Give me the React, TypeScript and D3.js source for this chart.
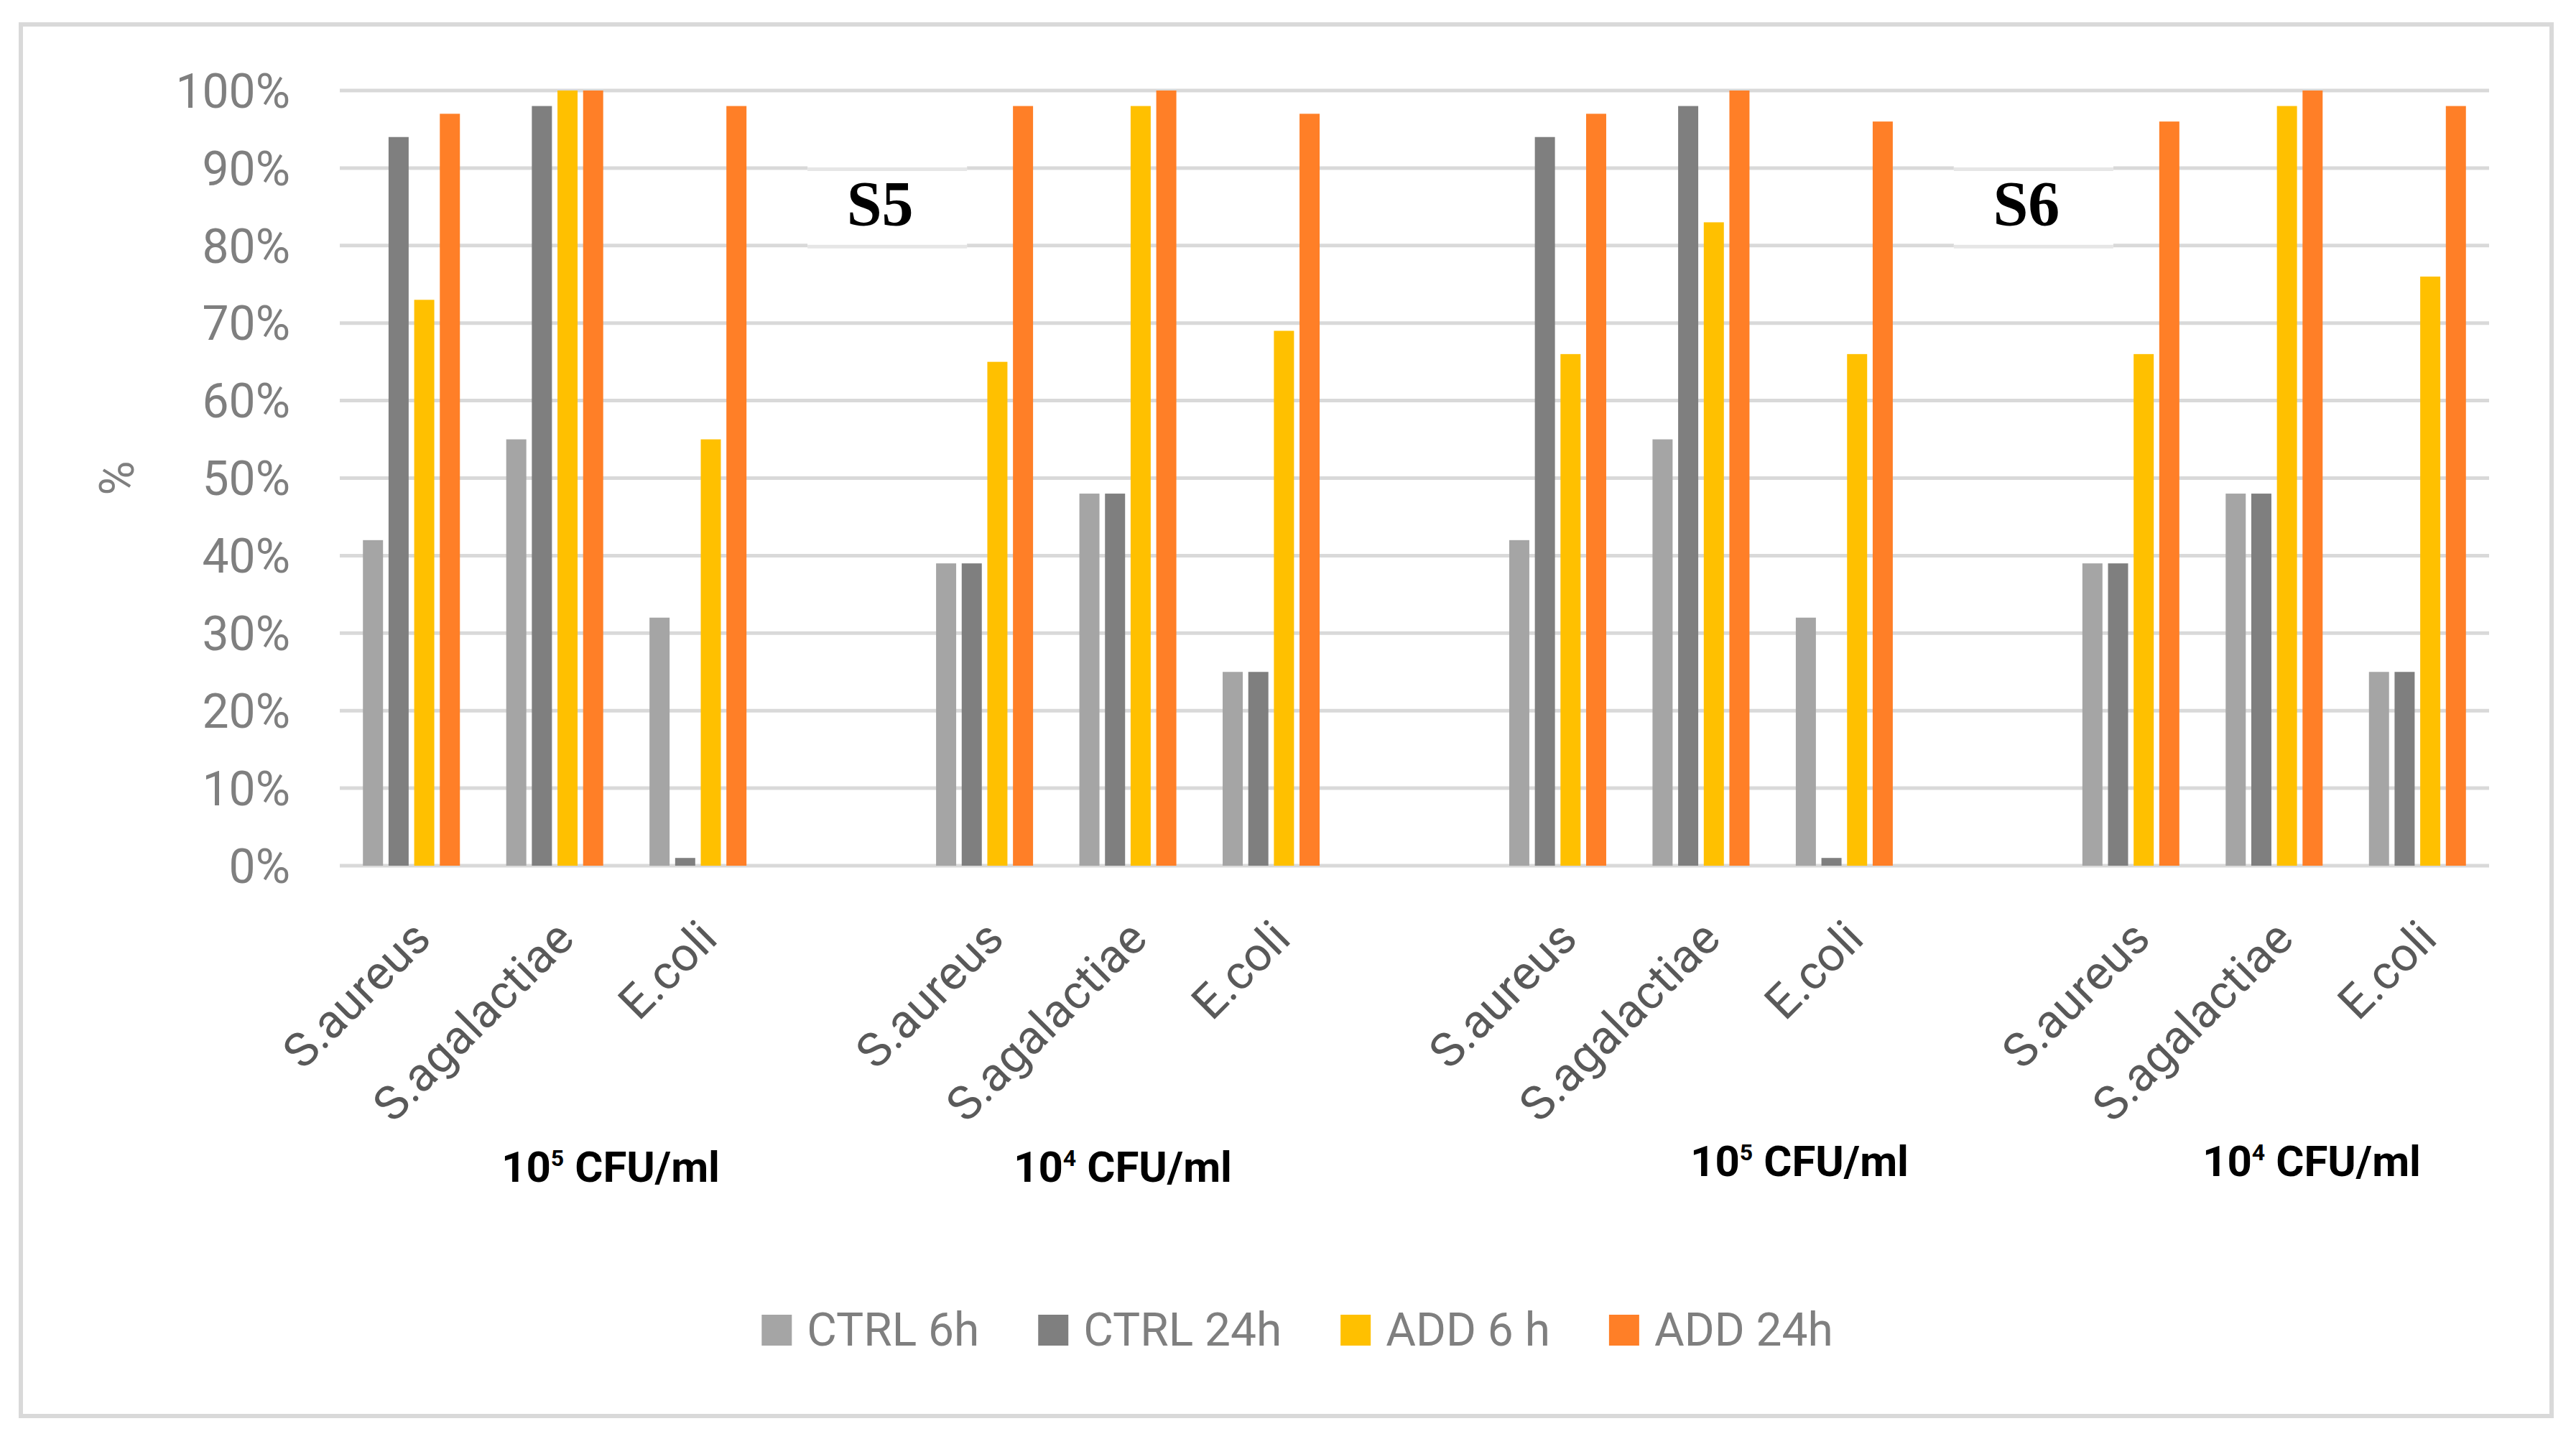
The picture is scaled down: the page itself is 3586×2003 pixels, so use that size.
import { useRef, useEffect } from 'react'
import * as d3 from 'd3'

// species shown in each block, blocks separated by an empty slot
const species = ['S.aureus', 'S.agalactiae', 'E.coli']
const doseExponents = ['5', '4', '5', '4']
const sampleNames = ['S5', 'S6']
const seriesNames = ['CTRL 6h', 'CTRL 24h', 'ADD 6 h', 'ADD 24h']
const seriesColors = ['#A5A5A5', '#7F7F7F', '#FFC000', '#FF7F27']
const yTicks = [0, 10, 20, 30, 40, 50, 60, 70, 80, 90, 100]

// values in %, order: block1 (3 species), block2, block3, block4
const ctrl6h = [42, 55, 32, 39, 48, 25, 42, 55, 32, 39, 48, 25]
const ctrl24h = [94, 98, 1, 39, 48, 25, 94, 98, 1, 39, 48, 25]
const add6h = [73, 100, 55, 65, 98, 69, 66, 83, 66, 66, 98, 76]
const add24h = [97, 100, 98, 98, 100, 97, 97, 100, 96, 96, 100, 98]

const W = 3586
const H = 2003
const FONT = 'Roboto, "Noto Sans", sans-serif'

export default function App() {
  const svgRef = useRef<SVGSVGElement>(null)

  useEffect(() => {
    if (!svgRef.current) return
    const svg = d3.select(svgRef.current)
    svg.selectAll('*').remove()

    const plot = { left: 473, right: 3465, top: 126, bottom: 1205 }

    // outer chart frame
    svg.append('rect')
      .attr('x', 29).attr('y', 34).attr('width', 3523).attr('height', 1937)
      .attr('fill', '#fff').attr('stroke', '#D9D9D9').attr('stroke-width', 6)

    // category slots: 3 species per block + an empty slot between blocks
    const slots: string[] = []
    doseExponents.forEach((_, b) => {
      species.forEach((_, s) => slots.push(`${b}-${s}`))
      if (b < doseExponents.length - 1) slots.push(`gap-${b}`)
    })

    const x = d3.scaleBand<string>().domain(slots).range([plot.left, plot.right]).padding(0)
    const inner = d3.scaleBand<string>().domain(seriesNames).range([-67.5, 67.5]).paddingInner(0.216)
    const y = d3.scaleLinear().domain([0, 100]).range([plot.bottom, plot.top])
    const cx = (key: string) => (x(key) ?? 0) + x.bandwidth() / 2

    // gridlines
    svg.append('g').selectAll('line')
      .data(yTicks)
      .join('line')
      .attr('x1', plot.left).attr('x2', plot.right)
      .attr('y1', d => y(d)).attr('y2', d => y(d))
      .attr('stroke', '#D9D9D9').attr('stroke-width', 5)

    // sample label boxes (white boxes covering the gridlines)
    const sampleSlots = ['gap-0', 'gap-2']
    const sampleG = svg.append('g')
    sampleNames.forEach((name, i) => {
      const bx = cx(sampleSlots[i]) + 64
      const top = y(90)
      const bot = y(80)
      sampleG.append('rect')
        .attr('x', bx - 111).attr('y', top - 4).attr('width', 222).attr('height', bot - top + 8)
        .attr('fill', '#fff')
      sampleG.append('line')
        .attr('x1', bx - 111).attr('x2', bx + 111).attr('y1', top + 1.5).attr('y2', top + 1.5)
        .attr('stroke', '#E6E6E6').attr('stroke-width', 5)
      sampleG.append('line')
        .attr('x1', bx - 111).attr('x2', bx + 111).attr('y1', bot + 1.5).attr('y2', bot + 1.5)
        .attr('stroke', '#E6E6E6').attr('stroke-width', 5)
      sampleG.append('text')
        .attr('x', bx - 10).attr('y', 313)
        .attr('text-anchor', 'middle')
        .style('font-family', '"Liberation Serif", "DejaVu Serif", serif')
        .style('font-weight', 700).style('font-size', '88px').style('fill', '#000')
        .text(name)
    })

    // bars
    const seriesValues = [ctrl6h, ctrl24h, add6h, add24h]
    const barData = seriesValues.flatMap((vals, si) => vals.map((v, j) => ({
      series: seriesNames[si],
      color: seriesColors[si],
      key: `${Math.floor(j / species.length)}-${j % species.length}`,
      value: v,
    })))
    svg.append('g').selectAll('rect')
      .data(barData)
      .join('rect')
      .attr('x', d => cx(d.key) + (inner(d.series) ?? 0))
      .attr('width', inner.bandwidth())
      .attr('y', d => y(d.value))
      .attr('height', d => y(0) - y(d.value))
      .attr('fill', d => d.color)

    // y tick labels
    svg.append('g').selectAll('text')
      .data(yTicks)
      .join('text')
      .attr('x', 404).attr('y', d => y(d)).attr('dy', '0.36em')
      .attr('text-anchor', 'end')
      .style('font-family', FONT).style('font-size', '66px').style('fill', '#7F7F7F')
      .text(d => `${d}%`)

    // y axis title
    svg.append('text')
      .attr('transform', `translate(162,${(plot.top + plot.bottom) / 2}) rotate(-90)`)
      .attr('text-anchor', 'middle').attr('dy', '0.36em')
      .style('font-family', FONT).style('font-size', '66px').style('fill', '#7F7F7F')
      .text('%')

    // rotated category labels
    const catKeys = slots.filter(k => !k.startsWith('gap'))
    svg.append('g').selectAll('text')
      .data(catKeys)
      .join('text')
      .attr('transform', k => `translate(${cx(k) + 30},${plot.bottom + 105}) rotate(-45)`)
      .attr('text-anchor', 'end')
      .style('font-family', FONT).style('font-size', '66px').style('fill', '#595959')
      .text(k => species[+k.split('-')[1]])

    // dose labels under each block
    const doseX = [850, 1563, 2505, 3218]
    const doseY = [1645, 1645, 1637, 1637]
    doseExponents.forEach((exp, i) => {
      const t = svg.append('text')
        .attr('x', doseX[i]).attr('y', doseY[i])
        .attr('text-anchor', 'middle')
        .style('font-family', FONT).style('font-weight', 700)
        .style('font-size', '60px').style('fill', '#000')
      t.append('tspan').text('10')
      t.append('tspan').attr('dy', -22).style('font-size', '32px').text(exp)
      t.append('tspan').attr('dy', 22).text(' CFU/ml')
    })

    // legend
    const legend = svg.append('g')
    let lx = 0
    seriesNames.forEach((name, i) => {
      legend.append('rect')
        .attr('x', lx).attr('y', 1830).attr('width', 42).attr('height', 43)
        .attr('fill', seriesColors[i])
      const txt = legend.append('text')
        .attr('x', lx + 63).attr('y', 1873)
        .style('font-family', FONT).style('font-size', '64px').style('fill', '#7F7F7F')
        .text(name)
      const w = (txt.node() as SVGTextElement).getComputedTextLength()
      lx += 63 + w + 82
    })
    const total = lx - 82
    legend.attr('transform', `translate(${1806 - total / 2},0)`)
  }, [])

  return (
    <svg
      ref={svgRef}
      width={W}
      height={H}
      viewBox={`0 0 ${W} ${H}`}
      style={{ position: 'absolute', left: 0, top: 0, display: 'block', background: '#fff' }}
    />
  )
}
